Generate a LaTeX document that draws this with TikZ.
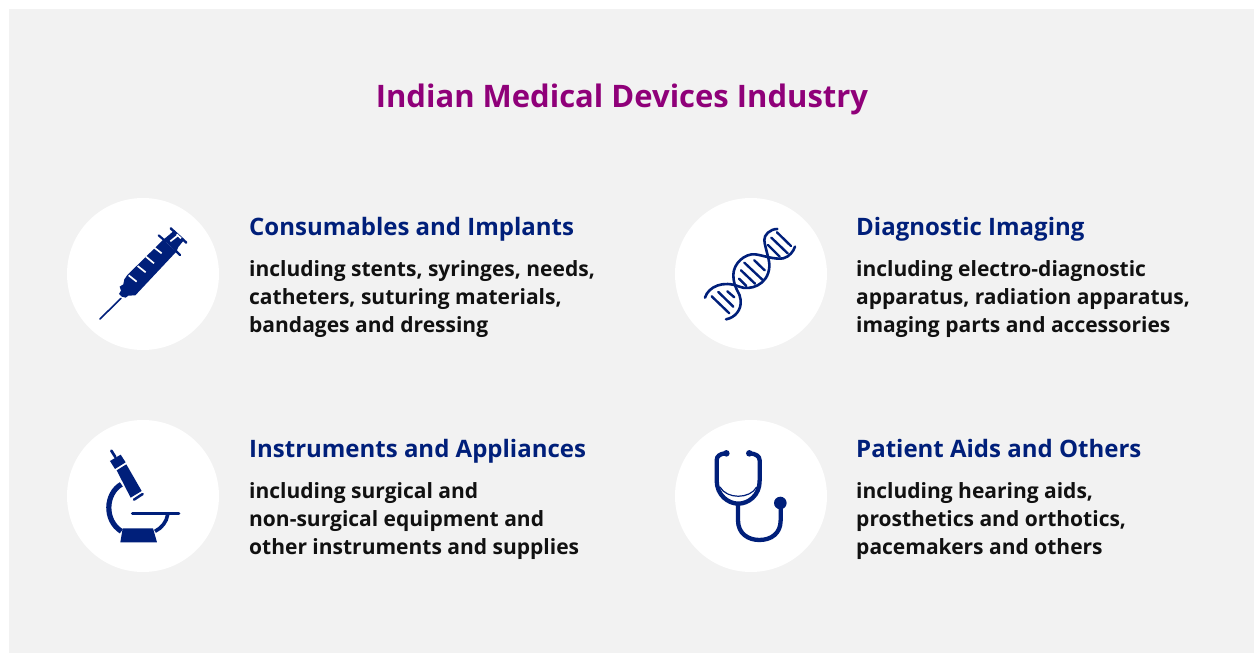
\documentclass[tikz,border=0pt]{standalone}
\usepackage{fontspec}
\setmainfont{Open Sans}
\definecolor{bgc}{HTML}{F2F2F2}
\definecolor{navy}{HTML}{001F7A}
\definecolor{plum}{HTML}{8F0079}
\definecolor{ink}{HTML}{111111}
\tikzset{
  x=1pt,y=-1pt,
  disc/.style={circle,fill=white,minimum size=152pt,inner sep=0pt},
  headtxt/.style={anchor=base west,inner sep=0pt,font=\fontsize{24}{28}\selectfont\bfseries,text=navy},
  bodytxt/.style={anchor=base west,inner sep=0pt,font=\fontsize{21}{28}\selectfont\bfseries,text=ink,align=left},
  dna/.style={draw=navy,line width=2.6pt,line cap=round,fill=none},
  rung/.style={draw=navy,line width=2.4pt,line cap=round},
  tube/.style={draw=navy,line width=4.3pt,line cap=round,fill=none},
  tick/.style={draw=white,line width=1.7pt},
}
\begin{document}
\begin{tikzpicture}
\useasboundingbox (0,0) rectangle (1254,653);
\fill[white] (0,0) rectangle (1254,653);
\fill[bgc] (9,9) rectangle (1254,653);
\node[anchor=base,inner sep=0pt,font=\fontsize{31}{36}\selectfont\bfseries,text=plum] (title) at (622,107) {Indian Medical Devices Industry};
\node[disc] (c1) at (143,274) {};
\node[disc] (c2) at (751,274) {};
\node[disc] (c3) at (143,496) {};
\node[disc] (c4) at (751,496) {};
\node[headtxt] (h1) at (249,235) {Consumables and Implants};
\node[headtxt] (h2) at (856,235) {Diagnostic Imaging};
\node[headtxt] (h3) at (249,457) {Instruments and Appliances};
\node[headtxt] (h4) at (856,457) {Patient Aids and Others};
\node[bodytxt] (b1a) at (249,276) {including stents, syringes, needs,};
\node[bodytxt] (b1b) at (249,304) {catheters, suturing materials,};
\node[bodytxt] (b1c) at (249,332) {bandages and dressing};
\node[bodytxt] (b2a) at (856,276) {including electro-diagnostic};
\node[bodytxt] (b2b) at (856,304) {apparatus, radiation apparatus,};
\node[bodytxt] (b2c) at (856,332) {imaging parts and accessories};
\node[bodytxt] (b3a) at (249,498) {including surgical and};
\node[bodytxt] (b3b) at (249,526) {non-surgical equipment and};
\node[bodytxt] (b3c) at (249,554) {other instruments and supplies};
\node[bodytxt] (b4a) at (856,498) {including hearing aids,};
\node[bodytxt] (b4b) at (856,526) {prosthetics and orthotics,};
\node[bodytxt] (b4c) at (856,554) {pacemakers and others};
% syringe
\begin{scope}[shift={(95,225)},x=0.3333pt,y=-0.3333pt]
\fill[navy] (97,150) -- (205,44) -- (244,80) -- (121,211) -- (100,212) -- (92,218) -- (80,215) -- (72,207) -- (78,197) -- (74,185) -- (85,178) -- (88,163) -- cycle;
\fill[navy] (222,30) -- (238,16) -- (268,44) -- (250,66) -- (244,80) -- (205,44) -- cycle;
\draw[navy,line width=1.6pt,line cap=round] (15,282) -- (78,220);
\draw[navy,line width=2.2pt,line cap=round] (191,31) -- (213,50);
\draw[navy,line width=2.2pt,line cap=round] (238,73) -- (255,90);
\draw[navy,line width=2.4pt,line cap=round] (227,10) -- (274,53);
\draw[tick] (226,49) -- (250,30);
\draw[tick] (245,28) -- (258,40);
\draw[tick] (101,151) -- (125,170);
\draw[tick] (128,123) -- (152,142);
\draw[tick] (153,95) -- (177,115);
\draw[tick] (178,68) -- (200,85);
\end{scope}
% DNA
\begin{scope}[shift={(700,225)},x=0.3333pt,y=-0.3333pt]
\draw[dna] (15,218) .. controls (25,185) and (70,165) .. (118,185) .. controls (150,198) and (205,180) .. (208,125) .. controls (210,105) and (195,70) .. (193,45) .. controls (192,30) and (210,12) .. (232,12);
\draw[dna] (78,283) .. controls (105,278) and (125,255) .. (122,225) .. controls (122,205) and (100,190) .. (100,150) .. controls (100,115) and (135,85) .. (165,88) .. controls (185,90) and (225,105) .. (250,100) .. controls (268,95) and (280,80) .. (285,65);
\draw[rung] (35,214) -- (88,265);
\draw[rung] (55,201) -- (100,245);
\draw[rung] (82,199) -- (103,217);
\draw[rung] (117,161) -- (139,183);
\draw[rung] (123,136) -- (165,176);
\draw[rung] (133,113) -- (187,164);
\draw[rung] (163,106) -- (194,136);
\draw[rung] (204,60) -- (239,95);
\draw[rung] (214,38) -- (263,85);
\draw[rung] (231,22) -- (273,63);
\end{scope}
% microscope
\begin{scope}[shift={(60,412)},x=0.3333pt,y=-0.3333pt]
\fill[navy] (188,349) -- (279,349) -- (291,391) -- (181,391) -- cycle;
\fill[navy] (170,175) -- (199,157) -- (245,237) -- (212,257) -- cycle;
\fill[navy] (150,147) -- (182,128) -- (197,151) -- (165,171) -- cycle;
\draw[navy,line width=2.7pt,line cap=round] (154,116) -- (166,135);
\draw[navy,line width=2.5pt,line cap=round] (222,263) -- (248,246);
\draw[navy,line width=2.7pt,line cap=round] (217,304) -- (357,304);
\draw[navy,line width=5.2pt] (184,217) .. controls (136,245) and (132,325) .. (184,358);
\draw[navy,line width=3.6pt] (323,308) .. controls (320,330) and (305,348) .. (285,358);
\end{scope}
% stethoscope
\begin{scope}[shift={(665,412)},x=0.3333pt,y=-0.3333pt]
\draw[navy,line width=1.2pt] (165,225) .. controls (185,262) and (255,262) .. (275,225);
\draw[tube] (180,124) .. controls (165,126) and (155,132) .. (155,145) -- (155,205) .. controls (155,250) and (190,275) .. (220,275) .. controls (250,275) and (285,250) .. (284,205) -- (284,145) .. controls (284,132) and (272,126) .. (256,124);
\draw[tube] (219,278) -- (219,325) .. controls (219,365) and (250,384) .. (283,384) .. controls (318,384) and (347,365) .. (347,325) -- (347,285);
\fill[navy] (184,124) circle[radius=3.3pt];
\fill[navy] (253,124) circle[radius=3.3pt];
\fill[navy] (346,273) circle[radius=6.3pt];
\draw[white,line width=0.8pt] (182,247) .. controls (205,262) and (235,262) .. (258,247);
\end{scope}
\end{tikzpicture}
\end{document}
